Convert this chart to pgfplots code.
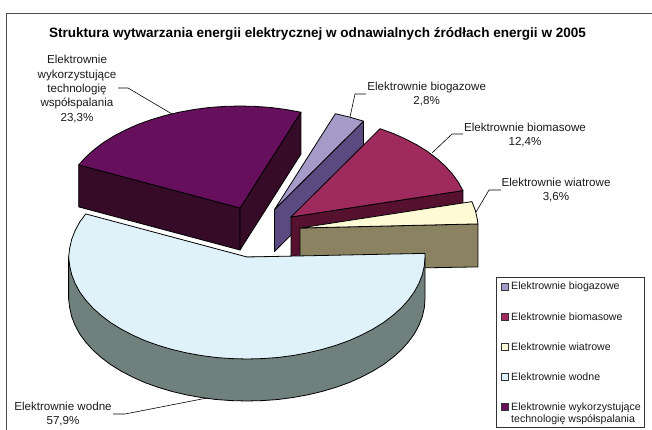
\documentclass[border=0pt]{standalone}
\usepackage{pgfplots}
\pgfplotsset{compat=1.18}
\usepackage{fontspec}
\setmainfont{Liberation Sans}
\definecolor{lavT}{HTML}{A59BC9}\definecolor{lavS}{HTML}{5B4A80}
\definecolor{maroonT}{HTML}{9E2A5E}\definecolor{maroonS}{HTML}{56112E}
\definecolor{creamT}{HTML}{FFFAD6}\definecolor{creamS}{HTML}{8B8262}
\definecolor{waterT}{HTML}{DFF1F9}\definecolor{waterS}{HTML}{70807C}
\definecolor{purpT}{HTML}{660F5C}\definecolor{purpS}{HTML}{360B28}
\definecolor{txt}{HTML}{1A1A1A}
\tikzset{
  poly/.style={draw=black,line width=0.8pt,line join=round,mark=none},
  lead/.style={draw=black,line width=0.6pt,mark=none},
  lab/.style={align=center,font=\fontsize{11.6}{14.4}\selectfont,text=txt,inner sep=0pt},
  leg/.style={anchor=west,font=\fontsize{10.6}{12.3}\selectfont,align=left,text=txt,inner sep=0pt},
  key/.style={draw=black!80,line width=0.9pt,mark=none}
}
\begin{document}
\begin{tikzpicture}
\useasboundingbox (0,0) rectangle (652pt,430pt);
\begin{axis}[scale only axis,width=652pt,height=430pt,xmin=0,xmax=652,ymin=0,ymax=430,
  y dir=reverse,hide axis,clip=false]
% frame
\addplot[draw=black!70,line width=1pt,mark=none] coordinates {(6.7,430)(6.7,13.5)(652,13.5)};
% biogas
\addplot[poly,fill=lavS] coordinates {(274.5,209.5)(363.5,121.2)(363.5,163.2)(274.5,251.5)} -- cycle;
\addplot[poly,fill=lavT] coordinates {(274.5,209.5)(363.5,121.2)(349.7,117.1)(335.4,113.7)} -- cycle;
% biomass
\addplot[poly,fill=maroonS] coordinates {(291,217)(462.9,190.6)(462.9,232.6)(291,259)} -- cycle;
\addplot[poly,fill=maroonT] coordinates {(291,217)(462.9,190.6)(458.3,182.1)(452.3,173.9)(445.2,166)(436.8,158.5)(427.4,151.4)(416.9,144.9)(405.4,138.9)(393.1,133.4)(380,128.7)} -- cycle;
% wind
\addplot[poly,fill=creamS] coordinates {(300,228)(477.9,223.9)(477.9,266.9)(300,270)} -- cycle;
\addplot[poly,fill=creamT] coordinates {(300,228)(477.9,223.9)(477.3,219.1)(475.3,210.3)(471.9,201.6)} -- cycle;
% co-firing
\addplot[poly,fill=purpS] coordinates {(78.7,164.9)(240,208)(240,250)(78.7,206.9)} -- cycle;
\addplot[poly,fill=purpS] coordinates {(240,208)(300.9,112.2)(300.9,154.2)(240,250)} -- cycle;
\addplot[poly,fill=purpT] coordinates {(240,208)(300.9,112.2)(286.1,109.5)(270.9,107.5)(255.5,106.4)(240,106)(224.5,106.4)(209.1,107.5)(193.9,109.5)(179.1,112.2)(164.8,115.6)(151,119.7)(137.9,124.4)(125.6,129.9)(114.1,135.9)(103.6,142.4)(94.2,149.5)(85.8,157)(78.7,164.9)} -- cycle;
% water side
\addplot[poly,fill=waterS] coordinates {(68.6,257)(425,257)(425,299)(424.3,307.9)(422.3,316.7)(418.9,325.4)(414.3,333.9)(408.3,342.1)(401.2,350)(392.8,357.5)(383.4,364.6)(372.9,371.1)(361.4,377.1)(349.1,382.6)(336,387.3)(322.2,391.4)(307.9,394.8)(293.1,397.5)(277.9,399.5)(262.5,400.6)(247,401)(231.5,400.6)(216.1,399.5)(200.9,397.5)(186.1,394.8)(171.8,391.4)(158,387.3)(144.9,382.6)(132.6,377.1)(121.1,371.1)(110.6,364.6)(101.2,357.5)(92.8,350)(85.7,342.1)(79.7,333.9)(75.1,325.4)(71.7,316.7)(69.7,307.9)(68.6,299)} -- cycle;
% water top
\addplot[poly,fill=waterT] coordinates {(247,257)(85.7,213.9)(79.7,222.1)(75.1,230.6)(71.7,239.3)(69.7,248.1)(68.6,257)(69.7,265.9)(71.7,274.7)(75.1,283.4)(79.7,291.9)(85.7,300.1)(92.8,308)(101.2,315.5)(110.6,322.6)(121.1,329.1)(132.6,335.1)(144.9,340.6)(158,345.3)(171.8,349.4)(186.1,352.8)(200.9,355.5)(216.1,357.5)(231.5,358.6)(247,359)(262.5,358.6)(277.9,357.5)(293.1,355.5)(307.9,352.8)(322.2,349.4)(336,345.3)(349.1,340.6)(361.4,335.1)(372.9,329.1)(383.4,322.6)(392.8,315.5)(401.2,308)(408.3,300.1)(414.3,291.9)(418.9,283.4)(422.3,274.7)(424.3,265.9)(425,257)(424.9,253.4)} -- cycle;
% leader lines
\addplot[lead] coordinates {(118,88)(128,88)(172,114)};
\addplot[lead] coordinates {(366,94)(355,94)(350,117)};
\addplot[lead] coordinates {(463,134)(452,134)(432,153)};
\addplot[lead] coordinates {(501,190)(489,190)(476,212)};
\addplot[lead] coordinates {(113,414)(125,414)(207,398)};
% title and labels
\node[font=\fontsize{13.55}{15}\selectfont\bfseries,text=black,inner sep=0pt] at (axis cs:317.5,33.5) {Struktura wytwarzania energii elektrycznej w odnawialnych źródłach energii w 2005};
\node[lab] at (axis cs:77,89) {Elektrownie\\wykorzystujące\\technologię\\współspalania\\23,3\%};
\node[lab] at (axis cs:426.7,94.3) {Elektrownie biogazowe\\2,8\%};
\node[lab] at (axis cs:525,134.8) {Elektrownie biomasowe\\12,4\%};
\node[lab] at (axis cs:556,190.3) {Elektrownie wiatrowe\\3,6\%};
\node[lab] at (axis cs:63,414.3) {Elektrownie wodne\\57,9\%};
% legend box
\addplot[draw=black!80,line width=0.9pt,fill=white,mark=none] coordinates {(496.3,277.3)(644.3,277.3)(644.3,427)(496.3,427)} -- cycle;
\addplot[key,fill=lavT] coordinates {(501.2,283.2)(508.2,283.2)(508.2,290.2)(501.2,290.2)} -- cycle;
\addplot[key,fill=maroonT] coordinates {(501.2,313.2)(508.2,313.2)(508.2,320.2)(501.2,320.2)} -- cycle;
\addplot[key,fill=creamT] coordinates {(501.2,343.2)(508.2,343.2)(508.2,350.2)(501.2,350.2)} -- cycle;
\addplot[key,fill=waterT] coordinates {(501.2,373.2)(508.2,373.2)(508.2,380.2)(501.2,380.2)} -- cycle;
\addplot[key,fill=purpT] coordinates {(501.2,403.2)(508.2,403.2)(508.2,410.2)(501.2,410.2)} -- cycle;
\node[leg] at (axis cs:511,286.7) {Elektrownie biogazowe};
\node[leg] at (axis cs:511,316.7) {Elektrownie biomasowe};
\node[leg] at (axis cs:511,346.7) {Elektrownie wiatrowe};
\node[leg] at (axis cs:511,376.7) {Elektrownie wodne};
\node[leg] at (axis cs:511,413.8) {Elektrownie wykorzystujące\\technologię współspalania};
\end{axis}
\end{tikzpicture}
\end{document}
